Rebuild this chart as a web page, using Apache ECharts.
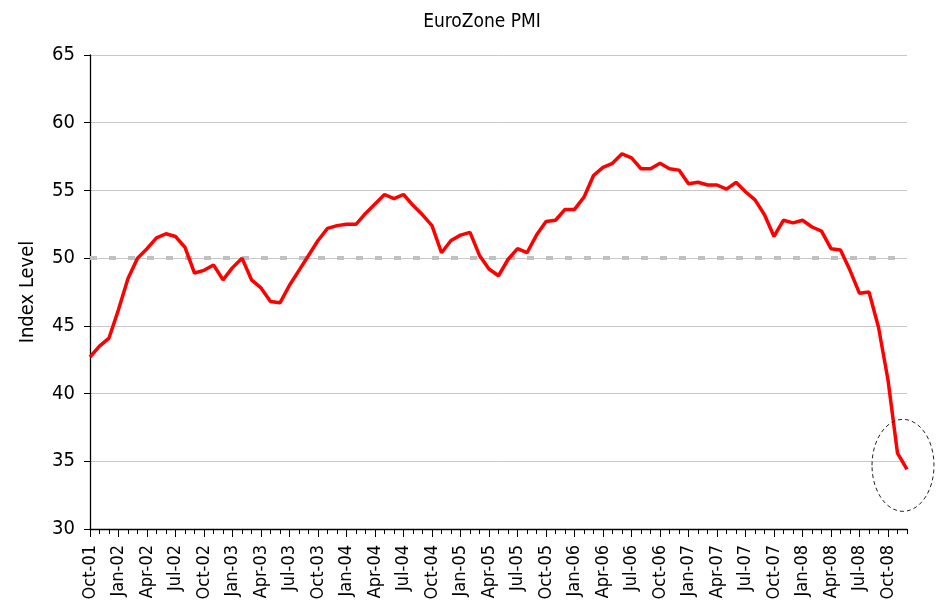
<!DOCTYPE html>
<html>
<head>
<meta charset="utf-8">
<title>EuroZone PMI</title>
<script src="https://cdn.jsdelivr.net/npm/echarts@6/dist/echarts.min.js"></script>
<style>
  html, body { margin: 0; padding: 0; background: #fff; }
  #chart { width: 940px; height: 605px; }
</style>
</head>
<body>
<div id="chart"></div>
<script>
// 月份 Oct-01 .. Dec-08
const months = [
  'Oct-01', 'Nov-01', 'Dec-01',
  'Jan-02', 'Feb-02', 'Mar-02', 'Apr-02', 'May-02', 'Jun-02', 'Jul-02', 'Aug-02', 'Sep-02', 'Oct-02', 'Nov-02', 'Dec-02',
  'Jan-03', 'Feb-03', 'Mar-03', 'Apr-03', 'May-03', 'Jun-03', 'Jul-03', 'Aug-03', 'Sep-03', 'Oct-03', 'Nov-03', 'Dec-03',
  'Jan-04', 'Feb-04', 'Mar-04', 'Apr-04', 'May-04', 'Jun-04', 'Jul-04', 'Aug-04', 'Sep-04', 'Oct-04', 'Nov-04', 'Dec-04',
  'Jan-05', 'Feb-05', 'Mar-05', 'Apr-05', 'May-05', 'Jun-05', 'Jul-05', 'Aug-05', 'Sep-05', 'Oct-05', 'Nov-05', 'Dec-05',
  'Jan-06', 'Feb-06', 'Mar-06', 'Apr-06', 'May-06', 'Jun-06', 'Jul-06', 'Aug-06', 'Sep-06', 'Oct-06', 'Nov-06', 'Dec-06',
  'Jan-07', 'Feb-07', 'Mar-07', 'Apr-07', 'May-07', 'Jun-07', 'Jul-07', 'Aug-07', 'Sep-07', 'Oct-07', 'Nov-07', 'Dec-07',
  'Jan-08', 'Feb-08', 'Mar-08', 'Apr-08', 'May-08', 'Jun-08', 'Jul-08', 'Aug-08', 'Sep-08', 'Oct-08', 'Nov-08', 'Dec-08'
]

// PMI 指数
const pmi = [
  42.7, 43.5, 44.1,
  46.2, 48.5, 50.0, 50.7, 51.5, 51.8, 51.6, 50.8, 48.9, 49.1, 49.5, 48.4,
  49.3, 50.0, 48.4, 47.8, 46.8, 46.7, 48.0, 49.1, 50.2, 51.3, 52.2, 52.4,
  52.5, 52.5, 53.3, 54.0, 54.7, 54.4, 54.7, 53.9, 53.2, 52.4, 50.4, 51.3,
  51.7, 51.9, 50.2, 49.2, 48.7, 49.9, 50.7, 50.4, 51.7, 52.7, 52.8, 53.6,
  53.6, 54.5, 56.1, 56.7, 57.0, 57.7, 57.4, 56.6, 56.6, 57.0, 56.6, 56.5,
  55.5, 55.6, 55.4, 55.4, 55.1, 55.6, 54.9, 54.3, 53.2, 51.6, 52.8, 52.6,
  52.8, 52.3, 52.0, 50.7, 50.6, 49.1, 47.4, 47.5, 44.9, 41.0, 35.6, 34.4
]

const yTicks = { min: 30, max: 65, step: 5 }
const refLevel = 50

const FONT = '"Liberation Sans Narrow", "DejaVu Sans Condensed", "Arial Narrow", sans-serif'

const chart = echarts.init(document.getElementById('chart'))

const option = {
  animation: false,
  title: {
    text: 'EuroZone PMI',
    left: 477,
    top: 8,
    textAlign: 'center',
    textStyle: { fontFamily: FONT, fontSize: 19, fontWeight: 'normal', color: '#000' }
  },
  grid: { left: 90, right: 33, top: 55, bottom: 76, outerBoundsMode: 'none' },
  xAxis: [
    {
      type: 'category',
      data: months,
      boundaryGap: false,
      axisLine: { lineStyle: { color: '#000', width: 1.3 } },
      axisTick: { show: true, interval: 0, length: 5, lineStyle: { color: '#000' } },
      axisLabel: {
        interval: 2,
        rotate: 90,
        margin: 16,
        fontFamily: FONT,
        fontSize: 18,
        color: '#000'
      },
      splitLine: { show: false }
    },
    {
      // 季度长刻度
      type: 'category',
      data: months,
      boundaryGap: false,
      position: 'bottom',
      axisLine: { show: false },
      axisTick: { show: true, interval: 2, length: 8, lineStyle: { color: '#000' } },
      axisLabel: { show: false },
      splitLine: { show: false }
    }
  ],
  yAxis: {
    type: 'value',
    min: yTicks.min,
    max: yTicks.max,
    interval: yTicks.step,
    name: 'Index Level',
    nameLocation: 'middle',
    nameGap: 52,
    nameTextStyle: { fontFamily: FONT, fontSize: 20, color: '#000' },
    axisLine: { show: true, lineStyle: { color: '#000', width: 1.3 } },
    axisTick: { show: true, length: 6, lineStyle: { color: '#000' } },
    axisLabel: { margin: 15, fontFamily: FONT, fontSize: 20, color: '#000' },
    splitLine: { show: true, lineStyle: { color: '#c8c8c8', width: 1 } }
  },
  series: [
    {
      name: 'PMI',
      type: 'line',
      data: pmi,
      showSymbol: false,
      symbol: 'none',
      lineStyle: { color: '#ff0000', width: 3.5 },
      z: 3,
      markLine: {
        silent: true,
        symbol: 'none',
        label: { show: false },
        lineStyle: { color: '#c0c0c0', width: 4, type: [7, 12] },
        data: [{ yAxis: refLevel }],
        z: 2
      }
    }
  ]
}

chart.setOption(option)

// 最后几个月的虚线圈注
const lastIdx = pmi.length - 1
const c = chart.convertToPixel({ xAxisIndex: 0, yAxisIndex: 0 }, [months[lastIdx], pmi[lastIdx] + 0.3])
chart.setOption({
  graphic: [{
    type: 'ellipse',
    shape: { cx: c[0] - 4, cy: c[1], rx: 31, ry: 46 },
    style: { fill: 'none', stroke: '#222', lineWidth: 1, lineDash: [4, 3] },
    z: 10
  }]
})
</script>
</body>
</html>
